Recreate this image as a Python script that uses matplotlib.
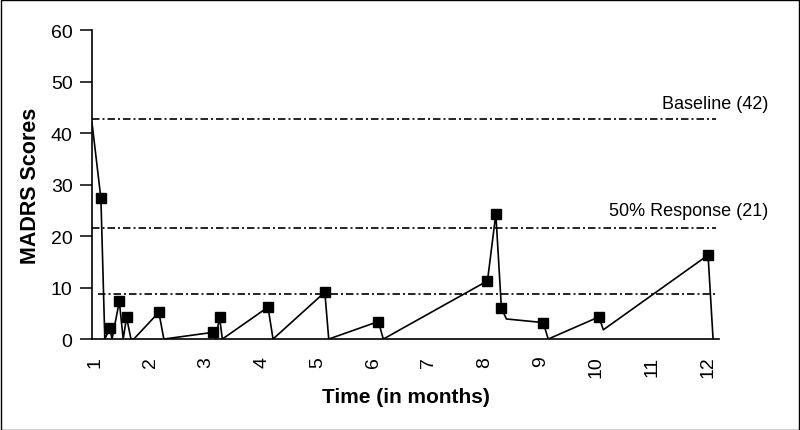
import matplotlib.pyplot as plt
from matplotlib.patches import Rectangle

plt.rcParams['font.family'] = ['Liberation Sans', 'DejaVu Sans']

# MADRS course over time (months); rated = points with an assessment marker
time = [0.95, 1.11, 1.18, 1.27, 1.31, 1.44, 1.51, 1.57, 1.65, 1.70, 2.15, 2.24,
        3.12, 3.17, 3.24, 3.29, 4.11, 4.20, 5.13, 5.20, 6.09, 6.18,
        8.05, 8.20, 8.30, 8.39, 9.05, 9.14, 10.05, 10.13, 12.01, 12.10]
score = [42, 27.3, 0, 2.1, 0, 7.3, 0, 4.2, 0, 0, 5.2, 0,
         1.3, 0, 4.2, 0, 6.2, 0, 9.1, 0, 3.4, 0,
         11.3, 24.3, 6.0, 3.9, 3.2, 0, 4.3, 1.8, 16.3, 0]
rated = [1, 3, 5, 7, 10, 12, 14, 16, 18, 20, 22, 23, 24, 26, 28, 30]

# reference lines
baseline = 42.7
response = 21.5
remission = 8.7
months = list(range(1, 13))

fig = plt.figure(figsize=(8, 4.31), dpi=100)
ax = fig.add_axes([0.115, 0.211, 0.784, 0.717])

ax.plot(time, score, color='black', lw=1.2, marker='s', markersize=7,
        markevery=rated, markerfacecolor='black', markeredgecolor='black')

dashdot = (0, (4.5, 1.8, 1.2, 1.8))
ax.hlines(baseline, 0.95, 12.15, colors='black', linestyles=dashdot, lw=1.2)
ax.hlines(response, 0.95, 12.15, colors='black', linestyles=dashdot, lw=1.2)
ax.hlines(remission, 1.05, 12.15, colors='black', linestyles=dashdot, lw=1.2)

ax.annotate('Baseline (42)', xy=(0.96, 45.8), xycoords=('figure fraction', 'data'),
            ha='right', va='center', fontsize=13, annotation_clip=False)
ax.annotate('50% Response (21)', xy=(0.96, 24.9), xycoords=('figure fraction', 'data'),
            ha='right', va='center', fontsize=13, annotation_clip=False)

ax.set_xlim(0.95, 12.21)
ax.set_ylim(0, 60)
ax.set_xticks(months)
ax.set_xticklabels([str(m) for m in months], rotation=90)
ax.set_yticks(range(0, 61, 10))
ax.tick_params(axis='x', length=0, pad=12, labelsize=14)
ax.tick_params(axis='y', length=9, width=1.1, direction='out', pad=5, labelsize=14)

ax.spines['top'].set_visible(False)
ax.spines['right'].set_visible(False)
ax.spines['left'].set_linewidth(1.2)
ax.spines['bottom'].set_linewidth(1.2)

ax.set_xlabel('Time (in months)', fontsize=15, fontweight='bold', labelpad=7)
ax.set_ylabel('MADRS Scores', fontsize=15.5, fontweight='bold', labelpad=7)

fig.patches.append(Rectangle((0.001, 0.001), 0.998, 0.997, transform=fig.transFigure,
                             fill=False, edgecolor='black', lw=1))

fig.savefig('out.png', dpi=100)
